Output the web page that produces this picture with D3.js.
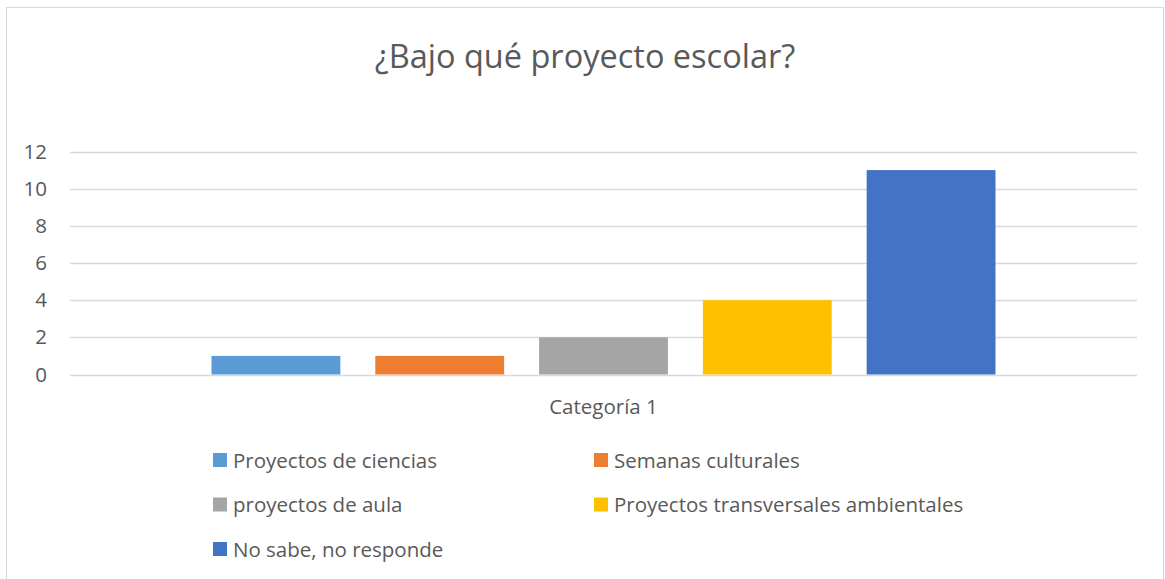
<!DOCTYPE html>
<html>
<head>
<meta charset="utf-8">
<script src="https://cdn.jsdelivr.net/npm/d3@7"></script>
<style>
  body { margin: 0; background: #fff; }
  text { font-family: "Open Sans", "Noto Sans", sans-serif; fill: #595959; }
</style>
</head>
<body>
<svg id="chart" width="1165" height="579"></svg>
<script>
const title = '¿Bajo qué proyecto escolar?';
const categories = ['Categoría 1'];
const seriesNames = [
  'Proyectos de ciencias',
  'Semanas culturales',
  'proyectos de aula',
  'Proyectos transversales ambientales',
  'No sabe, no responde',
];
const seriesValues = [1, 1, 2, 4, 11];
const seriesColors = ['#5B9BD5', '#ED7D31', '#A5A5A5', '#FFC000', '#4472C4'];
const yTicks = [0, 2, 4, 6, 8, 10, 12];

const svg = d3.select('#chart');
const margin = { left: 70, right: 1137, top: 151.5, bottom: 374.5 };
const fs = '20.5px';

// chart frame
svg.append('rect')
  .attr('x', 6.5).attr('y', 7.5)
  .attr('width', 1157).attr('height', 600)
  .attr('fill', '#fff')
  .attr('stroke', '#D9D9D9');

svg.append('text')
  .attr('x', 585).attr('y', 68)
  .attr('text-anchor', 'middle')
  .style('font-size', '32.5px')
  .text(title);

const y = d3.scaleLinear().domain([0, 12]).range([margin.bottom, margin.top]);
const x0 = d3.scaleBand().domain(categories)
  .range([margin.left, margin.right])
  .paddingInner(0).paddingOuter(0.1805);
const x1 = d3.scaleBand().domain(seriesNames)
  .range([0, x0.bandwidth()])
  .paddingInner(0.2134).paddingOuter(0);

// gridlines
svg.append('g')
  .selectAll('line')
  .data(yTicks)
  .join('line')
  .attr('x1', margin.left).attr('x2', margin.right)
  .attr('y1', (d) => Math.round(y(d)) + 0.5)
  .attr('y2', (d) => Math.round(y(d)) + 0.5)
  .attr('stroke', '#D9D9D9')
  .attr('stroke-width', 1.5);

// y axis labels
const yAxis = svg.append('g')
  .attr('transform', `translate(${margin.left},0)`)
  .call(d3.axisLeft(y).tickValues(yTicks).tickSize(0).tickPadding(23));
yAxis.select('.domain').remove();
yAxis.selectAll('text')
  .style('font-size', fs)
  .style('font-family', '"Open Sans", "Noto Sans", sans-serif')
  .attr('fill', '#595959');

// bars
const bars = seriesNames.map((name, i) => ({
  name, value: seriesValues[i], color: seriesColors[i], cat: categories[0],
}));
svg.append('g')
  .selectAll('rect')
  .data(bars)
  .join('rect')
  .attr('x', (d) => x0(d.cat) + x1(d.name))
  .attr('y', (d) => y(d.value))
  .attr('width', x1.bandwidth())
  .attr('height', (d) => y(0) - y(d.value))
  .attr('fill', (d) => d.color);

// category label
svg.append('g')
  .selectAll('text')
  .data(categories)
  .join('text')
  .attr('x', (d) => x0(d) + x0.bandwidth() / 2)
  .attr('y', 414)
  .attr('text-anchor', 'middle')
  .style('font-size', fs)
  .text((d) => d);

// legend, two columns
const legend = svg.append('g')
  .selectAll('g')
  .data(bars)
  .join('g')
  .attr('transform', (d, i) => `translate(${i % 2 === 0 ? 213 : 594},${453 + Math.floor(i / 2) * 44.5})`);
legend.append('rect')
  .attr('width', 14).attr('height', 14)
  .attr('fill', (d) => d.color);
legend.append('text')
  .attr('x', 20).attr('y', 14.5)
  .style('font-size', fs)
  .text((d) => d.name);
</script>
</body>
</html>
